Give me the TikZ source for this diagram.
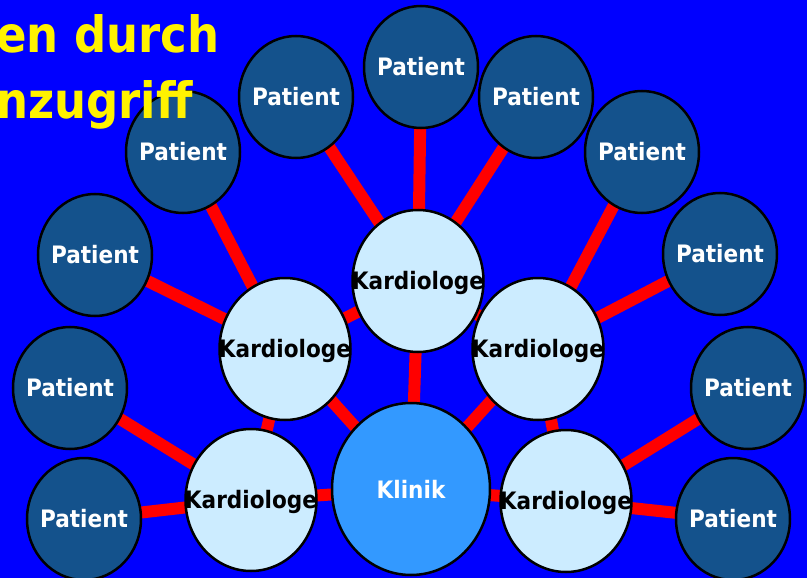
\documentclass[tikz,border=0pt]{standalone}
\usepackage{fontspec}
\setmainfont{DejaVu Sans}[FakeStretch=0.9]
\usepackage{xcolor}
\usetikzlibrary{shapes.geometric}

\definecolor{bgblue}{RGB}{0,0,255}
\definecolor{patblue}{RGB}{20,82,140}
\definecolor{kardblue}{RGB}{204,236,255}
\definecolor{klinblue}{RGB}{51,153,255}
\pgfdeclarelayer{back}
\pgfdeclarelayer{links}
\pgfsetlayers{back,links,main}

\begin{document}
\begin{tikzpicture}[x=1pt,y=-1pt,
  lbl/.style={font=\bfseries\fontsize{24}{24}\selectfont},
  patient/.style={ellipse,draw,line width=2.5pt,fill=patblue,inner sep=0pt,
    minimum width=114pt,minimum height=122pt,label={[lbl,text=white]center:Patient}},
  kardio/.style={ellipse,draw,line width=2.5pt,fill=kardblue,inner sep=0pt,
    minimum width=131pt,minimum height=142pt,label={[lbl,yshift=-2pt]center:Kardiologe}},
  klinik/.style={ellipse,draw,line width=2.5pt,fill=klinblue,inner sep=0pt,
    minimum width=158pt,minimum height=172pt,label={[lbl,text=white]center:Klinik}},
  link/.style={red,line width=12pt},
  headline/.style={anchor=base west,text=yellow,inner sep=0pt,font=\bfseries\fontsize{50}{50}\selectfont}]
\useasboundingbox (0,0) rectangle (807,578);
\begin{pgfonlayer}{back}
\fill[bgblue] (0,0) rectangle (807,578);
\end{pgfonlayer}

% Klinik und Kardiologen
\node[klinik] (klinik) at (411,489) {};
\node[kardio] (kA) at (418,281) {};
\node[kardio] (kB) at (285,349) {};
\node[kardio] (kC) at (538,349) {};
\node[kardio] (kD) at (251,500) {};
\node[kardio] (kE) at (566,501) {};

% Patienten
\node[patient] (p1) at (421,67) {};
\node[patient] (p2) at (296,97) {};
\node[patient] (p3) at (536,97) {};
\node[patient] (p4) at (183,152) {};
\node[patient] (p5) at (642,152) {};
\node[patient] (p6) at (95,255) {};
\node[patient] (p7) at (720,254) {};
\node[patient] (p8) at (70,388) {};
\node[patient] (p9) at (748,388) {};
\node[patient] (p10) at (84,519) {};
\node[patient] (p11) at (733,519) {};

\begin{pgfonlayer}{links}
\foreach \a/\b in {klinik/kA,klinik/kB,klinik/kC,klinik/kD,klinik/kE,
  kA/kB,kA/kC,kB/kD,kC/kE,kA/p1,kA/p2,kA/p3,kB/p4,kB/p6,kC/p5,kC/p7,
  kD/p8,kD/p10,kE/p9,kE/p11}
  \draw[link] (\a.center) -- (\b.center);
\end{pgfonlayer}

\node[headline] (head1) at (-4,53) {en durch};
\node[headline] (head2) at (-4,118) {nzugriff};
\end{tikzpicture}
\end{document}
